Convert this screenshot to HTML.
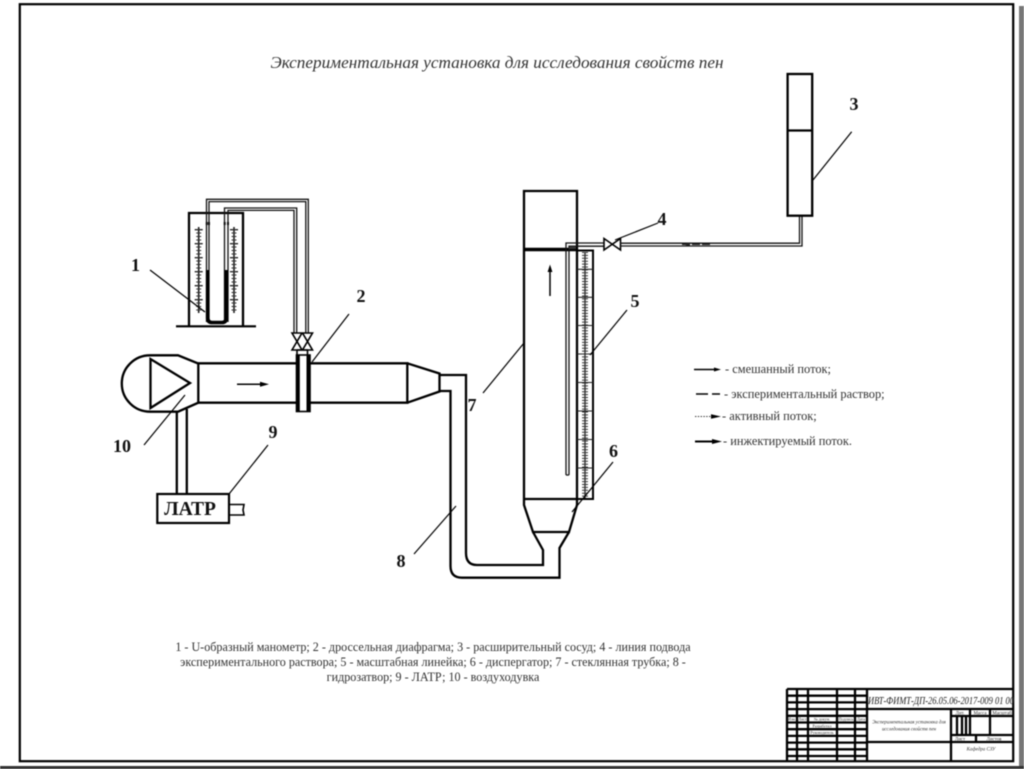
<!DOCTYPE html>
<html lang="ru">
<head>
<meta charset="utf-8">
<title>Экспериментальная установка</title>
<style>
html,body{margin:0;padding:0;background:#fff;width:1024px;height:769px;overflow:hidden}
svg{display:block;filter:blur(0.45px)}
text{font-family:"Liberation Serif","Noto Serif CJK SC",serif;fill:#222}
.n{font-weight:bold;font-size:18px;text-anchor:middle;fill:#111}
.c{font-size:12.1px;text-anchor:middle;fill:#333}
.l{font-size:12.4px;fill:#333}
.s{fill:none;stroke:#000;stroke-width:2.3}
.t{fill:none;stroke:#000;stroke-width:1.6}
.p{fill:none;stroke:#111;stroke-width:1.3}
.b{fill:none;stroke:#000;stroke-width:2.3}
.k{font-size:4.9px;fill:#333;text-anchor:middle}
</style>
</head>
<body>
<svg width="1024" height="769" viewBox="0 0 1024 769" xmlns="http://www.w3.org/2000/svg">
<rect width="1024" height="769" fill="#fff"/>
<!-- sheet frame -->
<rect x="19.8" y="4.2" width="993.4" height="757" fill="none" stroke="#000" stroke-width="2.2"/>
<rect x="1019" y="6" width="5" height="763" fill="#777"/>
<rect x="0" y="766" width="1024" height="3" fill="#333"/>

<text x="497" y="68" text-anchor="middle" font-size="17.2" font-style="italic" style="fill:#333">Экспериментальная установка для исследования свойств пен</text>

<!-- manometer -->
<path class="s" d="M189 326V213H243V326"/>
<path d="M176 326.3H256" stroke="#000" stroke-width="2.2"/>
<path class="p" d="M206.5 322V199.3H308.3V333"/>
<path class="p" d="M209 322V201.6H305.8V333"/>
<path class="p" d="M224.5 322V208H296.7V333" stroke-width="1.6"/>
<path class="p" d="M228 322V210.4H294V333"/>
<path d="M206.8 222v3M209 222v3M224.7 222v3M228 222v3" stroke="#111" stroke-width="2"/>
<path d="M207.7 270V318Q207.7 322.5 212 322.5H222Q226.3 322.5 226.3 318V270" fill="none" stroke="#000" stroke-width="3.6"/>
<path d="M198.7 227V313M234 227V313" stroke="#222" stroke-width="1.6"/>
<path d="M198.7 229V313" stroke="#222" stroke-width="8" stroke-dasharray="1.4 12.6"/>
<path d="M234 229V313" stroke="#222" stroke-width="8" stroke-dasharray="1.4 12.6"/>
<path d="M198.7 229V313" stroke="#333" stroke-width="5" stroke-dasharray="1 2.5"/>
<path d="M234 229V313" stroke="#333" stroke-width="5" stroke-dasharray="1 2.5"/>

<!-- double valve -->
<path class="t" d="M292 333H302L292 350H302ZM302.5 333H312.5L302.5 350H312.5Z"/>
<path class="t" d="M297 350V355M307.5 350V355M297 350H308"/>

<!-- fan -->
<path class="s" d="M178 355.3H150A28.2 28.2 0 0 0 150 411.7H178L198.3 402.7V363.5Z"/>
<path class="s" d="M150.5 359V408L190 383Z" stroke-width="2.4"/>
<!-- duct -->
<path class="s" d="M198 363.3H296M310 363.3H407.3V402.7H310M296 402.7H198"/>
<path class="s" d="M407.3 363.3L439.5 373.5V391.5L407.3 402.7"/>
<!-- flange -->
<rect x="296.5" y="355" width="13.5" height="56.5" fill="#fff" stroke="#000" stroke-width="1.6"/>
<path d="M298.3 355V411M308 355V411" stroke="#000" stroke-width="3"/>
<!-- duct arrow -->
<path d="M237 384.3H262" stroke="#000" stroke-width="1.5"/>
<path d="M260 381.8L269 384.3L260 386.8Z" fill="#000"/>

<!-- power wires + LATR -->
<path class="s" d="M176.8 411V494M186.8 409V494"/>
<rect x="157.3" y="494" width="71.7" height="29" fill="#fff" stroke="#000" stroke-width="2.2"/>
<text x="190" y="515" font-size="19.5" font-weight="bold" text-anchor="middle" style="fill:#111">ЛАТР</text>
<path class="t" d="M229 504.5H244L243 510L244 515H229" stroke-width="1.8"/>

<!-- hydro seal -->
<path class="s" d="M439.5 375H466V553Q466 565 477 565H543V550L533 532"/>
<path class="s" d="M439.5 391H450.5V566Q450.5 577.7 462 577.7H559.5V548L569 532"/>

<!-- column -->
<path class="s" d="M524 499V191H577V499"/>
<path d="M524 249.5H577" stroke="#000" stroke-width="3.6"/>
<path class="s" d="M524 499H577"/>
<path class="s" d="M524 499V505L533 532H569L577 505V499"/>
<path d="M550 296V270" stroke="#000" stroke-width="1.5"/>
<path d="M547.6 272L550 264.5L552.4 272Z" fill="#000"/>
<!-- inner tube -->
<path class="p" d="M566 475V243H604"/>
<path class="p" d="M569 475V246.2H604"/>
<path class="p" d="M566 475H569" stroke-width="2"/>
<path d="M569 248H576" stroke="#333" stroke-width="2.2"/>
<!-- scale -->
<rect x="577" y="250.5" width="16" height="248.5" fill="none" stroke="#000" stroke-width="2"/>
<path d="M585 252V498" stroke="#333" stroke-width="1.4"/>
<path d="M585 252V498" stroke="#333" stroke-width="6" stroke-dasharray="1 1.9"/>
<path d="M577 269.3H593M577 297.3H593M577 325.5H593M577 354H593M577 382.5H593M577 411H593M577 439.5H593M577 468H593" stroke="#222" stroke-width="1.1"/>

<!-- feed line -->
<path class="t" d="M604 238.5V250L620.5 238.5V250Z" stroke-width="2"/>
<path class="p" d="M620 243.2H799.5V215.7"/>
<path class="p" d="M620 246H802V215.7"/>
<path d="M682 244.3H712" stroke="#222" stroke-width="1.5" stroke-dasharray="8 2"/>
<path d="M682 244.3L690 242.4V246.2Z" fill="#222"/>
<!-- vessel -->
<rect x="787.6" y="74" width="24.6" height="141.7" fill="#fff" stroke="#000" stroke-width="2.3"/>
<path d="M787.6 130.5H812.2" stroke="#000" stroke-width="2.3"/>

<!-- leaders -->
<g stroke="#000" stroke-width="1.2" fill="none">
<path d="M150 270L205 312"/>
<path d="M349 314L312 362"/>
<path d="M851.7 131.7L813 180"/>
<path d="M658 223L615 240"/>
<path d="M627 310L590 355"/>
<path d="M613 462L572 512"/>
<path d="M483 393L524 343"/>
<path d="M414 554L456 506"/>
<path d="M268 445L229 494"/>
<path d="M144 445L185 395"/>
</g>
<text class="n" x="135.500" y="271">1</text>
<text class="n" x="361" y="302">2</text>
<text class="n" x="854" y="110">3</text>
<text class="n" x="662" y="225">4</text>
<text class="n" x="635" y="307">5</text>
<text class="n" x="613.500" y="457">6</text>
<text class="n" x="472" y="411">7</text>
<text class="n" x="401" y="567">8</text>
<text class="n" x="273" y="438">9</text>
<text class="n" x="122" y="452">10</text>

<!-- legend -->
<path d="M694 369.500H714" stroke="#000" stroke-width="1.5"/><path d="M714 367.500L721 369.500L714 371.500Z" fill="#000"/>
<text class="l" x="725" y="373">- смешанный поток;</text>
<path d="M696 394H708M712 394H720" stroke="#000" stroke-width="1.6"/>
<text class="l" x="724" y="398">- экспериментальный раствор;</text>
<path d="M695 416.500H712" stroke="#333" stroke-width="1.1" stroke-dasharray="1.400 1.400"/><path d="M711 414.300L721 416.500L711 418.700Z" fill="#000"/>
<text class="l" x="722" y="420">- активный поток;</text>
<path d="M695 441.500H714" stroke="#000" stroke-width="1.9"/><path d="M712 439L722 441.500L712 444Z" fill="#000"/>
<text class="l" x="723" y="445">- инжектируемый поток.</text>

<!-- caption -->
<text class="c" x="433" y="651">1 - U-образный манометр; 2 - дроссельная диафрагма; 3 - расширительный сосуд; 4 - линия подвода</text>
<text class="c" x="433" y="666">экспериментального раствора; 5 - масштабная линейка; 6 - диспергатор; 7 - стеклянная трубка; 8 -</text>
<text class="c" x="433" y="681">гидрозатвор; 9 - ЛАТР; 10 - воздуходувка</text>

<!-- title block -->
<path class="b" d="M787 689H1013M787 689V761" stroke-width="2.6"/>
<path class="b" d="M797 689V761M808 689V761M837 689V761M855 689V761M867 689V761"/>
<path class="b" d="M787 695.700H867M787 702.400H867M787 709.100H867M787 715.800H867M787 722.500H867M787 729.200H867M787 735.900H867M787 742.600H867M787 749.300H867M787 756H867"/>
<path class="b" d="M867 709H1013M867 742H951M951 709V761M951 716H1013M951 735H1013M951 742H1013"/>
<path class="b" d="M970 709V735M990 709V735M957 716V735M962 716V735M966 716V735M976 735V742" stroke-width="1.800"/>
<text x="868" y="704" font-size="10" font-style="italic" textLength="146" lengthAdjust="spacingAndGlyphs" style="fill:#222">ИВТ-ФИМТ-ДП-26.05.06-2017-009 01 00</text>
<text class="k" x="909" y="723.500" font-style="italic">Экспериментальная установка для</text>
<text class="k" x="909" y="730.500" font-style="italic">исследования свойств пен</text>
<text class="k" x="960" y="714.500">Лит.</text>
<text class="k" x="980" y="714.500">Масса</text>
<text class="k" x="1002" y="714.500">Масштаб</text>
<text class="k" x="960" y="740.500">Лист</text>
<text class="k" x="994" y="740.500">Листов</text>
<text class="k" x="981" y="750.500" font-style="italic">Кафедра СЗУ</text>
<text class="k" x="792" y="720.500" style="font-size:4px">Изм.</text>
<text class="k" x="802.500" y="720.500" style="font-size:4px">Лист</text>
<text class="k" x="822" y="720.500" style="font-size:4px">№ докум.</text>
<text class="k" x="846" y="720.500" style="font-size:4px">Подпись</text>
<text class="k" x="861" y="720.500" style="font-size:4px">Дата</text>
<text class="k" x="822" y="727.500" style="font-size:4px">Разработал</text>
<text class="k" x="822" y="734" style="font-size:4px">Руководитель</text>
</svg>
</body>
</html>
